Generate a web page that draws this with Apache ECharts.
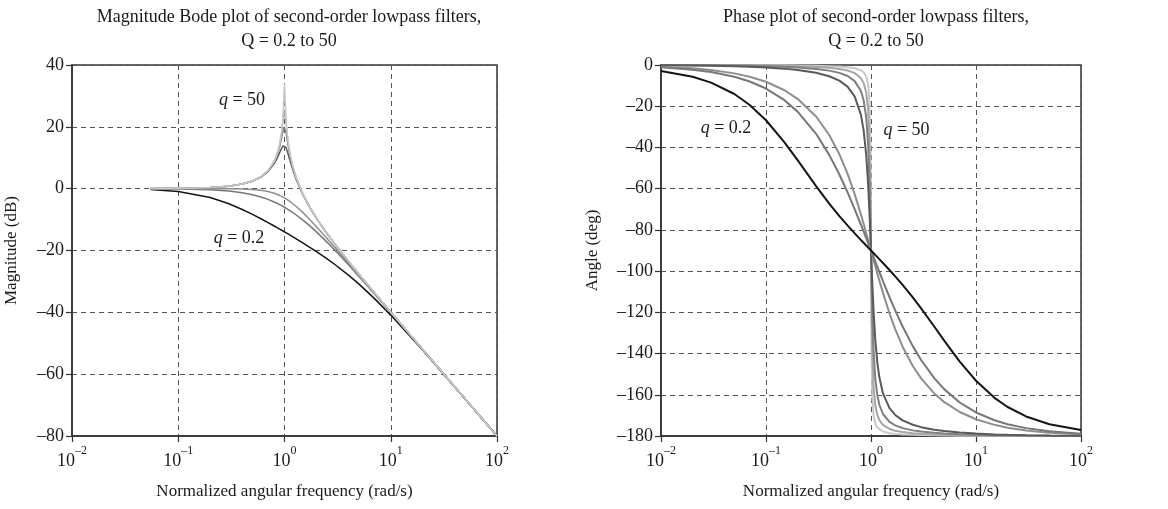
<!DOCTYPE html>
<html>
<head>
<meta charset="utf-8">
<script src="https://cdn.jsdelivr.net/npm/echarts@6/dist/echarts.min.js"></script>
<style>
  html, body { margin: 0; background: #fff; }
  #chart { width: 1168px; height: 509px; }
</style>
</head>
<body>
<div id="chart"></div>
<script>
// normalized frequencies (rad/s) sampled for the magnitude plot
const wMag = [0.055, 0.1, 0.2, 0.3, 0.4, 0.5, 0.6, 0.7, 0.8, 0.85, 0.9, 0.94, 0.97, 0.99, 1.0,
  1.01, 1.03, 1.06, 1.1, 1.15, 1.2, 1.3, 1.5, 1.7, 2, 2.5, 3, 4, 5, 7, 10, 20, 30, 50, 100]

// magnitude in dB, one array per Q
const magQ02 = [-0.29, -0.9, -2.84, -4.88, -6.73, -8.33, -9.74, -10.97, -12.08, -12.59, -13.07, -13.45, -13.72, -13.89, -13.98,
  -14.07, -14.24, -14.49, -14.81, -15.21, -15.59, -16.31, -17.62, -18.8, -20.37, -22.64, -24.61, -27.96, -30.8, -35.48, -40.9, -52.28, -59.19, -68.0, -80.01]
const magQ05 = [-0.03, -0.09, -0.34, -0.75, -1.29, -1.94, -2.67, -3.46, -4.3, -4.72, -5.15, -5.5, -5.76, -5.93, -6.02,
  -6.11, -6.28, -6.54, -6.89, -7.32, -7.75, -8.6, -10.24, -11.8, -13.98, -17.21, -20.0, -24.61, -28.3, -33.98, -40.09, -52.06, -59.09, -67.96, -80.0]
const magQ07 = [0, 0, -0.01, -0.04, -0.11, -0.26, -0.53, -0.94, -1.49, -1.82, -2.19, -2.51, -2.75, -2.92, -3.01,
  -3.1, -3.28, -3.55, -3.92, -4.39, -4.88, -5.86, -7.83, -9.71, -12.3, -16.03, -19.14, -24.1, -27.97, -33.81, -40.0, -52.04, -59.09, -67.96, -80.0]
const magQ5 = [0.03, 0.09, 0.35, 0.8, 1.48, 2.42, 3.73, 5.53, 8.09, 9.75, 11.64, 13.11, 13.86, 14.02, 13.98,
  13.85, 13.36, 12.2, 10.34, 8.04, 6.0, 2.65, -2.18, -5.67, -9.62, -14.44, -18.09, -23.53, -27.61, -33.63, -39.91, -52.02, -59.08, -67.96, -80.0]
const magQ10 = [0.03, 0.09, 0.35, 0.81, 1.5, 2.48, 3.84, 5.77, 8.67, 10.75, 13.55, 16.5, 18.89, 19.92, 20.0,
  19.75, 18.44, 15.77, 12.5, 9.31, 6.82, 3.07, -2.0, -5.56, -9.56, -14.41, -18.07, -23.53, -27.61, -33.63, -39.91, -52.02, -59.08, -67.96, -80.0]
const magQ20 = [0.03, 0.09, 0.35, 0.82, 1.51, 2.49, 3.87, 5.83, 8.82, 11.03, 14.19, 18.03, 22.33, 25.46, 26.02,
  25.3, 21.97, 17.43, 13.27, 9.69, 7.05, 3.18, -1.95, -5.54, -9.55, -14.41, -18.06, -23.52, -27.6, -33.63, -39.91, -52.02, -59.08, -67.96, -80.0]
const magQ50 = [0.03, 0.09, 0.36, 0.82, 1.51, 2.5, 3.88, 5.85, 8.87, 11.12, 14.39, 18.57, 24.12, 31.04, 33.98,
  30.9, 23.84, 18.03, 13.51, 9.81, 7.12, 3.22, -1.94, -5.53, -9.54, -14.4, -18.06, -23.52, -27.6, -33.63, -39.91, -52.02, -59.08, -67.96, -80.0]

// normalized frequencies for the phase plot
const wPh = [0.01, 0.02, 0.03, 0.05, 0.07, 0.1, 0.15, 0.2, 0.3, 0.4, 0.5, 0.6, 0.7, 0.8, 0.85, 0.9, 0.94, 0.97, 0.99, 1.0,
  1.01, 1.03, 1.06, 1.1, 1.15, 1.2, 1.3, 1.5, 1.7, 2, 2.5, 3, 4, 5, 7, 10, 15, 20, 30, 50, 100]

// phase in degrees, one array per Q
const phQ02 = [-2.86, -5.71, -8.54, -14.07, -19.38, -26.8, -37.5, -46.17, -58.76, -67.22, -73.3, -77.96, -81.71, -84.86, -86.26, -87.58, -88.58, -89.3, -89.77, -90,
  -90.23, -90.68, -91.34, -92.19, -93.21, -94.19, -96.06, -99.46, -102.54, -106.7, -112.78, -118.07, -126.87, -133.83, -143.9, -153.2, -161.49, -165.93, -170.53, -174.29, -177.14]
const phQ05 = [-1.15, -2.29, -3.44, -5.73, -8.01, -11.42, -17.06, -22.62, -33.4, -43.6, -53.13, -61.93, -70.0, -77.32, -80.73, -83.97, -86.46, -88.26, -89.42, -90,
  -90.57, -91.69, -93.34, -95.45, -97.98, -100.39, -104.86, -112.62, -119.07, -126.87, -136.4, -143.13, -151.93, -157.38, -163.74, -168.58, -172.37, -174.27, -176.18, -177.71, -178.85]
const phQ07 = [-0.81, -1.62, -2.43, -4.06, -5.68, -8.13, -12.24, -16.42, -25.0, -33.96, -43.31, -52.97, -62.75, -72.35, -77.0, -81.51, -85.0, -87.53, -89.19, -90,
  -90.81, -92.39, -94.71, -97.69, -101.22, -104.53, -110.57, -120.51, -128.18, -136.69, -146.04, -152.06, -159.34, -163.58, -168.35, -171.87, -174.59, -175.95, -177.3, -178.38, -179.19]
const phQ5 = [-0.11, -0.23, -0.34, -0.57, -0.81, -1.16, -1.76, -2.39, -3.77, -5.44, -7.6, -10.62, -15.35, -23.96, -31.49, -43.45, -58.24, -73.06, -84.26, -90,
  -95.68, -106.47, -120.25, -133.67, -144.5, -151.39, -159.35, -166.5, -169.8, -172.41, -174.56, -175.71, -176.95, -177.61, -178.33, -178.84, -179.23, -179.43, -179.62, -179.77, -179.89]
const phQ10 = [-0.06, -0.11, -0.17, -0.29, -0.4, -0.58, -0.88, -1.19, -1.89, -2.73, -3.81, -5.36, -7.82, -12.53, -17.03, -25.35, -38.92, -58.64, -78.64, -90,
  -101.26, -120.59, -139.38, -152.35, -160.37, -164.74, -169.33, -173.16, -174.86, -176.19, -177.27, -177.85, -178.47, -178.81, -179.16, -179.42, -179.62, -179.71, -179.81, -179.89, -179.94]
const phQ20 = [-0.03, -0.06, -0.09, -0.14, -0.2, -0.29, -0.44, -0.6, -0.94, -1.36, -1.91, -2.68, -3.93, -6.34, -8.71, -13.32, -21.99, -39.37, -68.1, -90,
  -111.7, -139.78, -156.79, -165.32, -169.89, -172.23, -174.62, -176.57, -177.42, -178.09, -178.64, -178.93, -179.24, -179.4, -179.58, -179.71, -179.81, -179.86, -179.9, -179.94, -179.97]
const phQ50 = [-0.01, -0.02, -0.03, -0.06, -0.08, -0.12, -0.18, -0.24, -0.38, -0.55, -0.76, -1.07, -1.57, -2.55, -3.51, -5.41, -9.18, -18.17, -44.86, -90,
  -134.86, -161.31, -170.27, -174.02, -175.92, -176.88, -177.84, -178.63, -178.97, -179.24, -179.45, -179.57, -179.69, -179.76, -179.83, -179.88, -179.92, -179.94, -179.96, -179.98, -179.99]

// annotations: [text value, frequency, level]
const magNotes = [['50', 0.398, 28.7], ['0.2', 0.373, -15.9]]
const phNotes = [['0.2', 0.0416, -30.6], ['50', 2.18, -31.5]]

const SERIF = '"Liberation Serif", "DejaVu Serif", serif'
const INK = '#1a1a1a'
const colors = { q02: '#151515', q05: '#777777', q07: '#8e8e8e', q5: '#5a5a5a', q10: '#808080', q20: '#a6a6a6', q50: '#c8c8c8' }

function pairs (w, v) {
  return w.map((x, i) => [x, v[i]])
}

function dash (v) {
  return v < 0 ? '\u2013' + (-v) : String(v)
}

function line (data, color, axis, width) {
  return {
    type: 'line',
    xAxisIndex: axis,
    yAxisIndex: axis,
    data,
    showSymbol: false,
    silent: true,
    lineStyle: { color, width },
    z: 3,
  }
}

// text-only scatter used for the "q = ..." notes
function note (notes, axis) {
  return {
    type: 'scatter',
    xAxisIndex: axis,
    yAxisIndex: axis,
    symbolSize: 0,
    silent: true,
    itemStyle: { opacity: 1 },
    data: notes.map(n => ({ value: [n[1], n[2]], name: n[0] })),
    label: {
      show: true,
      position: 'inside',
      fontFamily: SERIF,
      fontSize: 18,
      color: INK,
      opacity: 1,
      textBorderWidth: 0,
      textBorderColor: 'transparent',
      formatter: p => '{i|q} = ' + p.name,
      rich: { i: { fontFamily: SERIF, fontSize: 18, fontStyle: 'italic', color: INK, textBorderWidth: 0 } },
    },
    z: 5,
  }
}

function logAxis (idx) {
  return {
    type: 'log',
    logBase: 10,
    gridIndex: idx,
    min: 0.01,
    max: 100,
    name: 'Normalized angular frequency (rad/s)',
    nameLocation: 'middle',
    nameGap: 47,
    nameTextStyle: { fontFamily: SERIF, fontSize: 17, color: INK },
    axisLine: { show: true, onZero: false, lineStyle: { color: '#333', width: 1.5 } },
    axisTick: { show: true, inside: false, length: 6, lineStyle: { color: '#333', width: 1.2 } },
    axisLabel: {
      margin: 9,
      formatter: v => {
        const e = Math.round(Math.log10(v))
        return '{b|10}{s|' + dash(e) + '}'
      },
      rich: {
        b: { fontFamily: SERIF, fontSize: 18, color: INK, lineHeight: 25, verticalAlign: 'bottom' },
        s: { fontFamily: SERIF, fontSize: 12, color: INK, lineHeight: 25, verticalAlign: 'top' },
      },
    },
    splitLine: { show: true, lineStyle: { color: '#555', width: 1, type: [5, 4] } },
  }
}

function valAxis (idx, min, max, name, gap) {
  return {
    type: 'value',
    gridIndex: idx,
    min,
    max,
    interval: 20,
    name,
    nameLocation: 'middle',
    nameGap: gap,
    nameTextStyle: { fontFamily: SERIF, fontSize: 17, color: INK },
    axisLine: { show: true, onZero: false, lineStyle: { color: '#333', width: 1.5 } },
    axisTick: { show: true, inside: false, length: 6, lineStyle: { color: '#333', width: 1.2 } },
    axisLabel: { fontFamily: SERIF, fontSize: 18, color: INK, margin: 8, formatter: dash },
    splitLine: { show: true, lineStyle: { color: '#555', width: 1, type: [5, 4] } },
  }
}

const chart = echarts.init(document.getElementById('chart'), null, { renderer: 'canvas' })

chart.setOption({
  backgroundColor: '#fff',
  animation: false,
  title: [
    {
      text: 'Magnitude Bode plot of second-order lowpass filters,\nQ = 0.2 to 50',
      left: 284, top: 0, textAlign: 'center',
      textStyle: { fontFamily: SERIF, fontSize: 18, fontWeight: 'normal', color: INK, lineHeight: 24 },
    },
    {
      text: 'Phase plot of second-order lowpass filters,\nQ = 0.2 to 50',
      left: 871, top: 0, textAlign: 'center',
      textStyle: { fontFamily: SERIF, fontSize: 18, fontWeight: 'normal', color: INK, lineHeight: 24 },
    },
  ],
  grid: [
    { left: 72, right: 671, top: 65, bottom: 73, show: true, borderColor: '#333', borderWidth: 1.5 },
    { left: 661, right: 87, top: 65, bottom: 73, show: true, borderColor: '#333', borderWidth: 1.5 },
  ],
  xAxis: [logAxis(0), logAxis(1)],
  yAxis: [
    valAxis(0, -80, 40, 'Magnitude (dB)', 52),
    valAxis(1, -180, 0, 'Angle (deg)', 60),
  ],
  series: [
    line(pairs(wMag, magQ02), colors.q02, 0, 1.5),
    line(pairs(wMag, magQ05), colors.q05, 0, 1.5),
    line(pairs(wMag, magQ07), colors.q07, 0, 1.5),
    line(pairs(wMag, magQ5), colors.q5, 0, 1.5),
    line(pairs(wMag, magQ10), colors.q10, 0, 1.5),
    line(pairs(wMag, magQ20), colors.q20, 0, 1.5),
    line(pairs(wMag, magQ50), colors.q50, 0, 1.5),
    line(pairs(wPh, phQ50), colors.q50, 1, 2),
    line(pairs(wPh, phQ20), colors.q20, 1, 2),
    line(pairs(wPh, phQ10), colors.q10, 1, 2),
    line(pairs(wPh, phQ5), colors.q5, 1, 2),
    line(pairs(wPh, phQ07), colors.q07, 1, 2),
    line(pairs(wPh, phQ05), colors.q05, 1, 2),
    line(pairs(wPh, phQ02), colors.q02, 1, 2),
    note(magNotes, 0),
    note(phNotes, 1),
  ],
})
</script>
</body>
</html>
